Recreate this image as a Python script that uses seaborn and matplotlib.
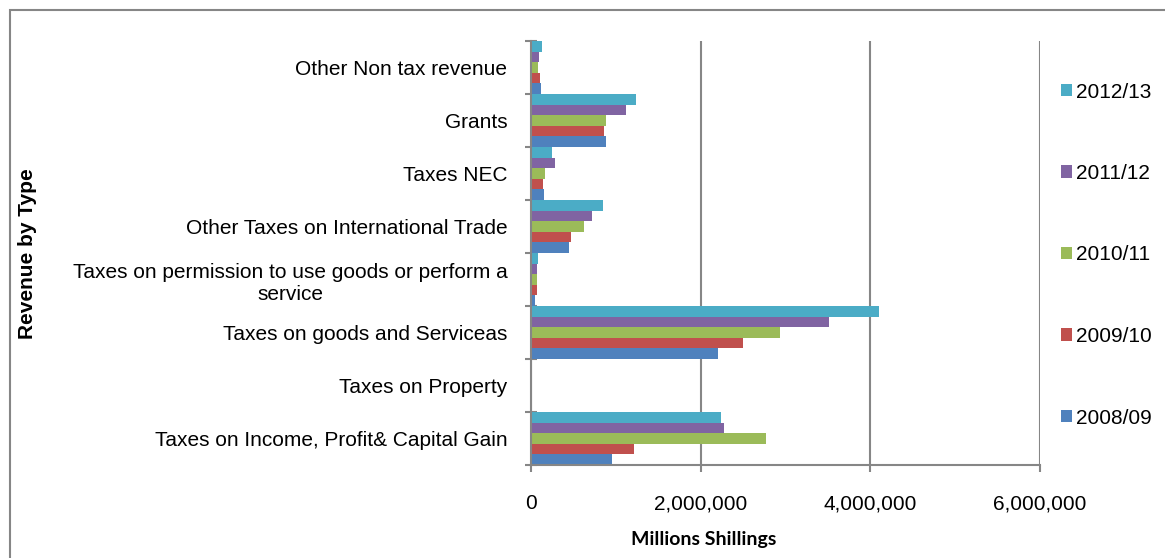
import numpy as np
import pandas as pd
import matplotlib
matplotlib.use('Agg')
import matplotlib.pyplot as plt
import matplotlib.ticker as mticker
from matplotlib.patches import Rectangle
import seaborn as sns

# revenue categories, top to bottom as shown
categories = [
    'Other Non tax revenue',
    'Grants',
    'Taxes NEC',
    'Other Taxes on International Trade',
    'Taxes on permission to use goods or perform a\nservice',
    'Taxes on goods and Serviceas',
    'Taxes on Property',
    'Taxes on Income, Profit& Capital Gain',
]
years = ['2012/13', '2011/12', '2010/11', '2009/10', '2008/09']
colors = ['#4BACC6', '#8064A2', '#9BBB59', '#C0504D', '#4F81BD']

# values per year, same order as categories
v_2012_13 = [125000, 1237000, 247000, 852000, 79000, 4100000, 0, 2243000]
v_2011_12 = [100000, 1123000, 287000, 715000, 71000, 3510000, 0, 2271000]
v_2010_11 = [86000, 884000, 161000, 628000, 71000, 2930000, 0, 2770000]
v_2009_10 = [106000, 860000, 145000, 471000, 70000, 2500000, 0, 1218000]
v_2008_09 = [118000, 880000, 157000, 444000, 51000, 2210000, 0, 955000]

series = [v_2012_13, v_2011_12, v_2010_11, v_2009_10, v_2008_09]
df = pd.DataFrame({
    'category': categories * len(years),
    'year': np.repeat(years, len(categories)),
    'value': np.concatenate(series),
})

sns.set_style('white')
plt.rcParams['font.family'] = ['Liberation Sans', 'DejaVu Sans']
plt.rcParams['text.color'] = 'black'
plt.rcParams['xtick.color'] = 'black'
plt.rcParams['ytick.color'] = 'black'

fig = plt.figure(figsize=(11.65, 5.58), dpi=100)
ax = fig.add_axes([531/1165, 1-465/558, (1040-531)/1165, (465-41)/558])

sns.barplot(data=df, x='value', y='category', hue='year', order=categories,
            hue_order=years, palette=colors, saturation=1, orient='h', width=1.0, gap=0,
            errorbar=None, linewidth=0, ax=ax)

grey = '#868686'
ax.set_xlim(0, 6000000)
ax.set_xticks([0, 2000000, 4000000, 6000000])
ax.xaxis.set_major_formatter(mticker.FuncFormatter(lambda v, p: f'{int(v):,}'))
ax.grid(axis='x', color=grey, linewidth=1.5)
ax.set_axisbelow(True)
for s in ['top', 'right']:
    ax.spines[s].set_visible(False)
for s in ['left', 'bottom']:
    ax.spines[s].set_color(grey)
    ax.spines[s].set_linewidth(1.5)

# boundary ticks on y, labels on minor ticks
ax.set_yticks(np.arange(-0.5, len(categories), 1.0))
ax.set_yticklabels([])
ax.set_yticks(np.arange(len(categories)), minor=True)
ax.set_yticklabels(categories, minor=True, fontsize=15, ha='right', multialignment='center')
ax.tick_params(axis='y', which='major', left=True, direction='inout', length=9, width=1.5, color=grey)
ax.tick_params(axis='y', which='minor', left=True, length=0, pad=17, labelcolor='black')
ax.tick_params(axis='x', bottom=True, direction='out', length=5, width=1.5, color=grey,
               labelsize=15, pad=16, labelcolor='black')

ax.set_xlabel('')
ax.set_ylabel('')
fig.text(704/1165, 1-540/558, 'Millions Shillings', fontsize=14, fontweight='bold',
         family=['Lato', 'DejaVu Sans'], ha='center', va='center', color='black')
fig.text(28/1165, 1-254/558, 'Revenue by Type', rotation=90, fontsize=15, fontweight='bold',
         ha='center', va='center', color='black')

handles, labels = ax.get_legend_handles_labels()
ax.legend(handles, labels, frameon=False, fontsize=15, loc='center left',
          bbox_to_anchor=(1042/1165, 1-255/558), bbox_transform=fig.transFigure,
          handlelength=0.55, handleheight=0.55, handletextpad=0.2, labelspacing=3.0)

fig.patches.append(Rectangle((10/1165, -0.2), 1.5, 1.2 - 10/558, transform=fig.transFigure,
                             fill=False, edgecolor=grey, linewidth=1.5))

fig.savefig('out.png', dpi=100)
